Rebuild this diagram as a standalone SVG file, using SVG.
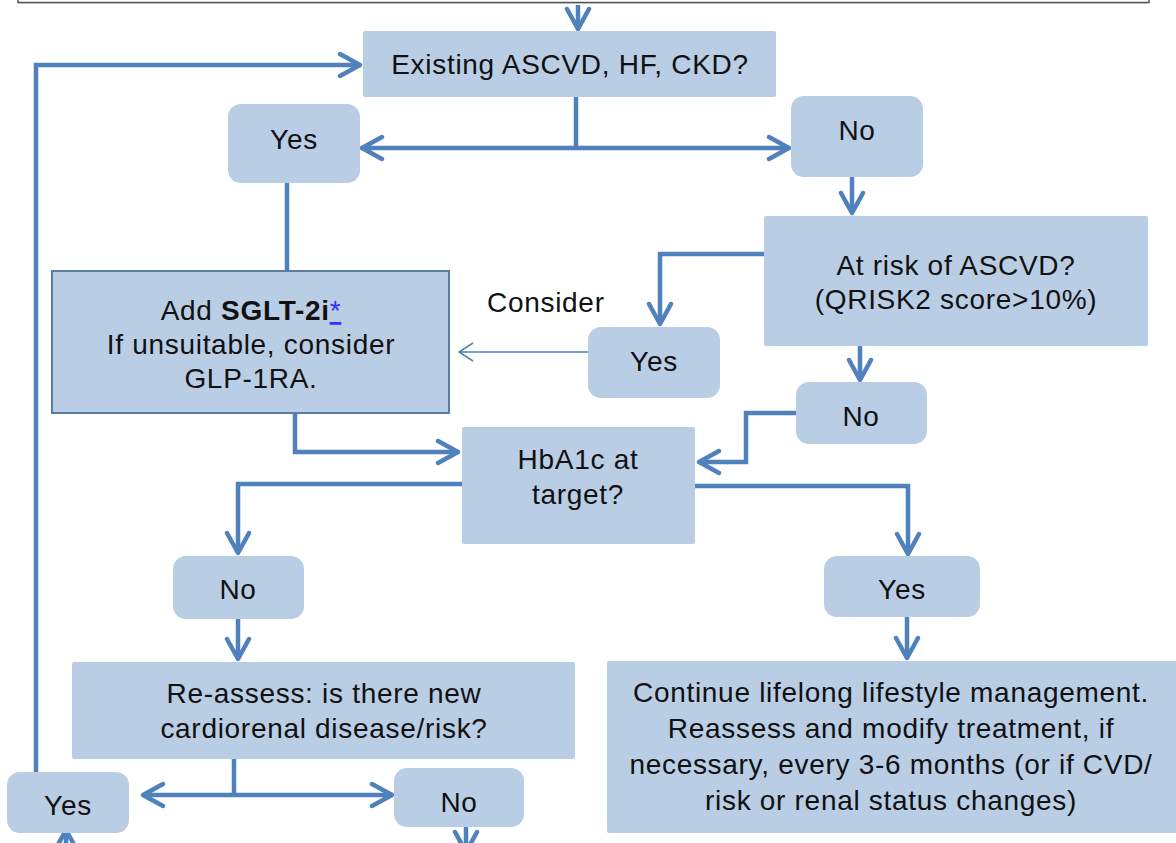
<svg xmlns="http://www.w3.org/2000/svg" width="1176" height="843" viewBox="0 0 1176 843">
<style>
.box{fill:#B9CDE5}
.bordered{fill:#B9CDE5;stroke:#5A7DA8;stroke-width:2}
.t{font-family:"Liberation Sans",Arial,sans-serif;font-size:28px;fill:#111;text-anchor:middle;letter-spacing:0.7px}
.c{fill:none;stroke:#4F81BD;stroke-width:4.5;stroke-linejoin:miter}
.thin{fill:none;stroke:#4F81BD;stroke-width:1.5}
</style>
<defs>
<marker id="arr" markerUnits="userSpaceOnUse" viewBox="-24 -14 28 28" markerWidth="28" markerHeight="28" refX="0" refY="0" orient="auto">
<path d="M-20,-11 L0,0 L-20,11" fill="none" stroke="#4F81BD" stroke-width="4.5" stroke-linejoin="round" stroke-linecap="round"/>
</marker>
<marker id="arrThin" markerUnits="userSpaceOnUse" viewBox="-16 -11 18 22" markerWidth="18" markerHeight="22" refX="0" refY="0" orient="auto">
<path d="M-14,-9 L0,0 L-14,9" fill="none" stroke="#4F81BD" stroke-width="1.5"/>
</marker>
</defs>
<rect width="1176" height="843" fill="#fff"/>
<g id="top-frame">
<rect x="18" y="-20" width="1131" height="22.5" fill="#fff" stroke="#555" stroke-width="1.5"/>
<line x1="19" y1="3.5" x2="1148" y2="3.5" stroke="#bbb" stroke-width="1"/>
</g>
<g id="connectors">
<path class="c" d="M578,5 L578,29" marker-end="url(#arr)"/>
<path class="c" d="M576,97 L576,148"/>
<path class="c" d="M576,148 L362,148" marker-end="url(#arr)"/>
<path class="c" d="M576,148 L789,148" marker-end="url(#arr)"/>
<path class="c" d="M852,177 L852,213" marker-end="url(#arr)"/>
<path class="c" d="M764,254 L660,254 L660,324" marker-end="url(#arr)"/>
<path class="thin" d="M588,352 L459,352" marker-end="url(#arrThin)"/>
<path class="c" d="M287,183 L287,270"/>
<path class="c" d="M295,413 L295,452 L458,452" marker-end="url(#arr)"/>
<path class="c" d="M860,346 L860,380" marker-end="url(#arr)"/>
<path class="c" d="M796,413 L746,413 L746,462 L699,462" marker-end="url(#arr)"/>
<path class="c" d="M462,484 L238,484 L238,553" marker-end="url(#arr)"/>
<path class="c" d="M695,486 L908,486 L908,554" marker-end="url(#arr)"/>
<path class="c" d="M238,619 L238,659" marker-end="url(#arr)"/>
<path class="c" d="M907,617 L907,658" marker-end="url(#arr)"/>
<path class="c" d="M234,759 L234,795"/>
<path class="c" d="M234,795 L143,795" marker-end="url(#arr)"/>
<path class="c" d="M234,795 L392,795" marker-end="url(#arr)"/>
<path class="c" d="M466,827 L466,852" marker-end="url(#arr)"/>
<path class="c" d="M66,870 L66,830" marker-end="url(#arr)"/>
<path class="c" d="M36,772 L36,65 L360,65" marker-end="url(#arr)"/>
</g>
<g id="existing">
<rect class="box" x="363" y="31" width="413" height="66" rx="2"/>
<text class="t" x="570" y="74">Existing ASCVD, HF, CKD?</text>
</g>
<g id="yes1">
<rect class="box" x="228" y="104" width="132" height="79" rx="13"/>
<text class="t" x="294" y="149">Yes</text>
</g>
<g id="no1">
<rect class="box" x="791" y="96" width="132" height="81" rx="13"/>
<text class="t" x="857" y="140">No</text>
</g>
<g id="atrisk">
<rect class="box" x="764" y="216" width="384" height="130" rx="2"/>
<text class="t" x="956" y="275">At risk of ASCVD?</text>
<text class="t" x="956" y="309">(QRISK2 score&gt;10%)</text>
</g>
<g id="yes2">
<rect class="box" x="588" y="327" width="132" height="71" rx="13"/>
<text class="t" x="654" y="371">Yes</text>
</g>
<g id="consider-label">
<text class="t" x="487" y="312" style="text-anchor:start">Consider</text>
</g>
<g id="sglt">
<rect class="bordered" x="52" y="271" width="397" height="142"/>
<text class="t" x="251" y="320">Add <tspan font-weight="bold">SGLT-2i</tspan><tspan fill="#3333FF" text-decoration="underline">*</tspan></text>
<text class="t" x="251" y="354">If unsuitable, consider</text>
<text class="t" x="251" y="388">GLP-1RA.</text>
</g>
<g id="no2">
<rect class="box" x="796" y="382" width="131" height="62" rx="13"/>
<text class="t" x="861" y="426">No</text>
</g>
<g id="hba1c">
<rect class="box" x="462" y="427" width="233" height="117" rx="2"/>
<text class="t" x="578" y="469">HbA1c at</text>
<text class="t" x="578" y="504">target?</text>
</g>
<g id="no3">
<rect class="box" x="173" y="556" width="131" height="63" rx="13"/>
<text class="t" x="238" y="599">No</text>
</g>
<g id="yes3">
<rect class="box" x="824" y="556" width="156" height="61" rx="13"/>
<text class="t" x="902" y="599">Yes</text>
</g>
<g id="reassess">
<rect class="box" x="72" y="662" width="503" height="97" rx="2"/>
<text class="t" x="324" y="703">Re-assess: is there new</text>
<text class="t" x="324" y="738">cardiorenal disease/risk?</text>
</g>
<g id="continue">
<rect class="box" x="607" y="661" width="572" height="172" rx="2"/>
<text class="t" x="891" y="702">Continue lifelong lifestyle management.</text>
<text class="t" x="891" y="738">Reassess and modify treatment, if</text>
<text class="t" x="891" y="774">necessary, every 3-6 months (or if CVD/</text>
<text class="t" x="891" y="810">risk or renal status changes)</text>
</g>
<g id="yes4">
<rect class="box" x="7" y="772" width="122" height="61" rx="13"/>
<text class="t" x="68" y="815">Yes</text>
</g>
<g id="no4">
<rect class="box" x="394" y="768" width="130" height="59" rx="13"/>
<text class="t" x="459" y="812">No</text>
</g>
</svg>
